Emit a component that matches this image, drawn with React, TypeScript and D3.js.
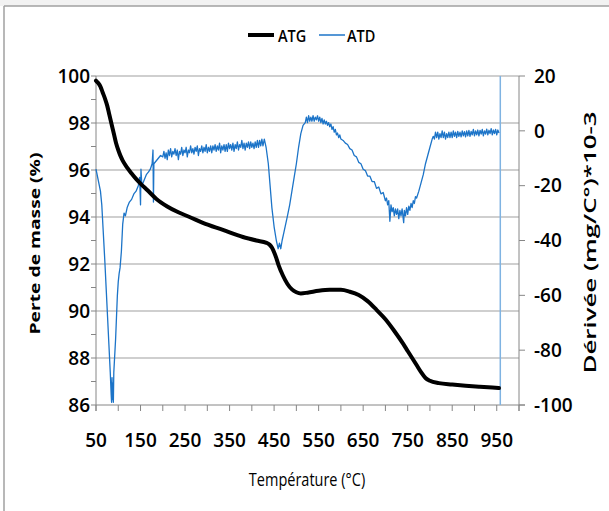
import React from "react";
import * as d3 from "d3";

// ---------- data ----------
const xTickValues = [50, 150, 250, 350, 450, 550, 650, 750, 850, 950];
const leftTickValues = [86, 88, 90, 92, 94, 96, 98, 100];
const rightTickValues = [-100, -80, -60, -40, -20, 0, 20];

// ATG : perte de masse (%) vs température (°C)
const atgTemp = [50, 55, 60, 65, 70, 75, 80, 85, 90, 95, 100, 105, 110, 120, 130, 140, 150, 165, 185, 210, 235, 260, 290, 335, 380, 410, 433, 440, 445, 450, 455, 460, 470, 480, 490, 500, 510, 525, 550, 575, 600, 620, 640, 660, 680, 700, 720, 740, 750, 760, 770, 780, 790, 800, 820, 850, 880, 910, 940, 955];
const atgMass = [99.8, 99.7, 99.55, 99.3, 99.05, 98.75, 98.35, 97.95, 97.55, 97.15, 96.85, 96.6, 96.4, 96.1, 95.85, 95.62, 95.42, 95.15, 94.78, 94.45, 94.2, 94.0, 93.75, 93.45, 93.15, 93.0, 92.9, 92.82, 92.7, 92.5, 92.25, 91.95, 91.5, 91.15, 90.92, 90.8, 90.75, 90.78, 90.86, 90.9, 90.9, 90.82, 90.68, 90.42, 90.05, 89.65, 89.15, 88.6, 88.3, 88.0, 87.7, 87.4, 87.15, 87.03, 86.93, 86.87, 86.82, 86.78, 86.74, 86.72];

// ATD : dérivée (mg/°C)*10-3 vs température (°C), [T, valeur]
const atdFirstPeak: [number, number][] = [
  [50, -14], [55, -18], [60, -22], [63, -27], [66, -36], [70, -48], [73, -58], [76, -68], [79, -78], [82, -88], [84, -96], [85, -99], [86, -90], [87, -98], [88, -92], [89, -99], [90, -88], [92, -82], [94, -76], [96, -68], [98, -60], [100, -55], [102, -52], [104, -50], [107, -44], [110, -34], [113, -30], [116, -31], [120, -28], [125, -26], [130, -25], [135, -23], [140, -22], [145, -20], [148, -17], [150, -27], [151, -14], [153, -20], [158, -18], [163, -16], [168, -15], [172, -14], [176, -12], [178, -7], [179, -26], [180, -12], [185, -11], [190, -10], [195, -9],
];
const atdPlateau: [number, number][] = [
  [200, -9.5], [202.5, -7.5], [205, -10], [207.5, -8], [210, -10.5], [212.5, -7], [215, -9], [217.5, -6.5], [220, -9.5], [222.5, -7.5], [225, -8.5], [227.5, -6.5], [230, -9], [232.5, -7], [235, -10.5], [237.5, -7.5], [240, -8.5], [242.5, -6], [245, -9], [247.5, -7], [250, -8], [252.5, -6], [255, -9.5], [257.5, -7], [260, -8], [262.5, -5.5], [265, -8], [267.5, -6.5], [270, -8.5], [272.5, -6], [275, -7.5], [277.5, -5.5], [280, -9], [282.5, -6.5], [285, -7.5], [287.5, -5.5], [290, -8], [292.5, -6], [295, -7.5], [297.5, -5], [300, -8], [302.5, -6], [305, -7.5], [307.5, -5.5], [310, -8], [312.5, -5.5], [315, -7], [317.5, -5], [320, -7.5], [322.5, -5.5], [325, -7], [327.5, -4.5], [330, -8], [332.5, -5.5], [335, -7], [337.5, -5], [340, -7.5], [342.5, -5], [345, -7.5], [347.5, -4.5], [350, -6.5], [352.5, -5], [355, -7], [357.5, -4.5], [360, -7.5], [362.5, -5], [365, -6.5], [367.5, -4], [370, -7], [372.5, -5], [375, -6], [377.5, -3.5], [380, -6.5], [382.5, -4.5], [385, -7], [387.5, -4.5], [390, -6], [392.5, -4], [395, -6.5], [397.5, -4], [400, -6], [402.5, -4.5], [405, -6.5], [407.5, -4], [410, -6], [412.5, -3.5], [415, -6], [417.5, -3.5], [420, -5.5], [422.5, -3], [425, -5.5], [428, -3], [432, -6],
];
const atdSecondPeak: [number, number][] = [
  [437, -12], [441, -20], [445, -28], [450, -35], [455, -40], [459, -43], [462, -41], [465, -43], [468, -40], [472, -37], [476, -34], [480, -31], [485, -27], [490, -22], [495, -17], [500, -12], [505, -6], [510, -1], [515, 2],
  [520, 3], [522.5, 5], [525, 3], [527.5, 5.5], [530, 3.5], [532.5, 5], [535, 3.5], [537.5, 5.5], [540, 3.5], [542.5, 5], [545, 4], [547.5, 5.5], [550, 3.5], [552.5, 5], [555, 3], [557.5, 4.5], [560, 2.5], [562.5, 4], [565, 2.5], [567.5, 3.5], [570, 2], [572.5, 3], [575, 1.5], [577.5, 2.5], [580, 0.5], [582.5, 1.5], [585, -0.5], [587.5, 0.5], [590, -1.5], [592.5, -0.8], [595, -2.5], [597.5, -1.5], [600, -3],
];
const atdThirdPeak: [number, number][] = [
  [605, -3.5], [610, -4.5], [615, -5], [620, -6.5], [625, -7], [630, -9], [635, -9.5], [640, -11.5], [645, -12], [650, -14], [655, -14.5], [660, -16.5], [665, -16.5], [670, -18.5], [675, -18.5], [680, -21], [685, -20.5], [690, -23], [695, -22.5], [700, -25.5],
  [702.5, -24.5], [705, -27], [707.5, -25.5], [710, -33], [712.5, -27], [715, -29.5], [717.5, -28], [720, -31], [722.5, -28.5], [725, -30.5], [727.5, -28.5], [730, -32], [732.5, -29], [735, -31], [737.5, -28.5], [741, -33.5], [742.5, -29], [745, -31], [747.5, -28], [750, -30.5], [752.5, -27.5], [755, -29], [757.5, -26.5], [760, -28], [762.5, -25.5], [765, -26.5], [767.5, -24], [770, -24.5], [775, -22], [780, -19], [785, -16], [790, -12], [795, -9], [800, -6], [805, -3],
];
const atdEnd: [number, number][] = [
  [807.5, -2], [810, -3], [812.5, -0.5], [815, -2.5], [817.5, -0.5], [820, -3], [822.5, -1], [825, -2.5], [827.5, 0], [830, -2.5], [832.5, -0.5], [835, -3], [837.5, -1], [840, -2.5], [842.5, -0.5], [845, -2.5], [847.5, -0.5], [850, -2.5], [852.5, 0], [855, -2], [857.5, -0.5], [860, -2.5], [862.5, -0.2], [865, -2], [867.5, -0.5], [870, -2.2], [872.5, 0], [875, -1.8], [877.5, -0.3], [880, -2.2], [882.5, 0], [885, -1.8], [887.5, 0.2], [890, -2], [892.5, -0.2], [895, -1.5], [897.5, 0.5], [900, -1.8], [902.5, 0], [905, -1.5], [907.5, 0.3], [910, -1.8], [912.5, 0.2], [915, -1.2], [917.5, 0.5], [920, -1.8], [922.5, 0], [925, -1.2], [927.5, 0.6], [930, -1.5], [932.5, 0.2], [935, -1], [937.5, 0.8], [940, -1.5], [942.5, 0.3], [945, -1], [947.5, 0.5], [950, -1.5], [952.5, 0.3], [955, -0.8],
];
const atdEndTemp = 958;

// ---------- layout ----------
const W = 609;
const H = 511;
const plot = { left: 96, right: 519, top: 76, bottom: 405 };
const font = "'Open Sans', 'Noto Sans', sans-serif";
const axisColor = "#868686";
const gridColor = "#bfbfbf";
const blue = "#1c74c8";

function SText(props: {
  x: number;
  y: number;
  anchor?: "start" | "middle" | "end";
  size: number;
  weight?: string | number;
  sy?: number;
  children: React.ReactNode;
}) {
  const sy = props.sy ?? 1;
  return (
    <text
      transform={`translate(${props.x},${props.y}) scale(1,${sy})`}
      textAnchor={props.anchor ?? "start"}
      fontFamily={font}
      fontWeight={props.weight ?? "bold"}
      fontSize={props.size}
      fill="#000"
    >
      {props.children}
    </text>
  );
}

export default function App() {
  const x = d3.scaleLinear().domain([50, 1000]).range([plot.left, plot.right]);
  const yL = d3.scaleLinear().domain([86, 100]).range([plot.bottom, plot.top]);
  const yR = d3.scaleLinear().domain([-100, 20]).range([plot.bottom, plot.top]);

  const atdPoints = [...atdFirstPeak, ...atdPlateau, ...atdSecondPeak, ...atdThirdPeak, ...atdEnd];

  const atgLine = d3
    .line<number>()
    .x((_, i) => x(atgTemp[i]))
    .y((d) => yL(d))
    .curve(d3.curveMonotoneX)(atgMass) as string;
  const atdLine = d3
    .line<[number, number]>()
    .x((d) => x(d[0]))
    .y((d) => yR(d[1]))(atdPoints) as string;

  const minorLeft = d3.range(86, 101, 1);
  const xMinor = d3.range(50, 1001, 50);
  const tickSize = 19;
  const half = 0.357 * tickSize;

  return (
    <svg width={W} height={H} style={{ position: "absolute", left: 0, top: 0, background: "#fff" }}>
      {/* outer frame */}
      <rect x={0} y={0} width={W} height={6} fill="#f2f2f2" />
      <line x1={4} y1={6} x2={W} y2={6} stroke="#a0a0a0" strokeWidth={1.5} />
      <line x1={4} y1={6} x2={4} y2={H} stroke="#a0a0a0" strokeWidth={1.5} />

      {/* gridlines */}
      {leftTickValues
        .filter((v) => v !== 86)
        .map((v) => (
          <line key={"g" + v} x1={plot.left} x2={plot.right} y1={yL(v)} y2={yL(v)} stroke={gridColor} strokeWidth={1.5} />
        ))}

      {/* left axis */}
      <line x1={plot.left} x2={plot.left} y1={plot.top} y2={plot.bottom + 6} stroke={axisColor} strokeWidth={1} />
      {minorLeft.map((v) => (
        <line key={"lt" + v} x1={plot.left - 5} x2={plot.left} y1={yL(v)} y2={yL(v)} stroke={axisColor} strokeWidth={1} />
      ))}
      {leftTickValues.map((v) => (
        <SText key={"ll" + v} x={90} y={yL(v) + half} anchor="end" size={tickSize} weight={600}>
          {v}
        </SText>
      ))}

      {/* right axis */}
      <line x1={plot.right} x2={plot.right} y1={plot.top} y2={plot.bottom + 6} stroke={axisColor} strokeWidth={1} />
      {rightTickValues.map((v) => (
        <line key={"rt" + v} x1={plot.right} x2={plot.right + 6} y1={yR(v)} y2={yR(v)} stroke={axisColor} strokeWidth={1} />
      ))}
      {rightTickValues.map((v) => (
        <SText key={"rl" + v} x={534} y={yR(v) + half} anchor="start" size={tickSize} weight={600}>
          {v}
        </SText>
      ))}

      {/* bottom axis */}
      <line x1={plot.left} x2={plot.right + 6} y1={plot.bottom} y2={plot.bottom} stroke={axisColor} strokeWidth={1} />
      {xMinor.map((v) => (
        <line key={"xt" + v} x1={x(v)} x2={x(v)} y1={plot.bottom} y2={plot.bottom + 6} stroke={axisColor} strokeWidth={1} />
      ))}
      {xTickValues.map((v) => (
        <SText key={"xl" + v} x={x(v)} y={447} anchor="middle" size={tickSize} weight={600}>
          {v}
        </SText>
      ))}

      {/* series */}
      <line x1={x(atdEndTemp)} x2={x(atdEndTemp)} y1={yR(20)} y2={yR(-100)} stroke="#7fb3e2" strokeWidth={1.5} />
      <path d={atdLine} fill="none" stroke={blue} strokeWidth={1.3} strokeLinejoin="round" />
      <path d={atgLine} fill="none" stroke="#000" strokeWidth={4} strokeLinejoin="round" strokeLinecap="round" />

      {/* axis titles */}
      <text
        transform={`translate(40,${(plot.top + plot.bottom) / 2 + 3}) rotate(-90)`}
        textAnchor="middle"
        fontFamily={font}
        fontWeight="bold"
        fontSize={15}
        textLength={182}
        lengthAdjust="spacingAndGlyphs"
        fill="#000"
      >
        Perte de masse  (%)
      </text>
      <text
        transform={`translate(596,${(plot.top + plot.bottom) / 2 + 2}) rotate(-90)`}
        textAnchor="middle"
        fontFamily={font}
        fontWeight="600"
        fontSize={17}
        textLength={262}
        lengthAdjust="spacingAndGlyphs"
        fill="#000"
      >
        Dérivée (mg/C°)*10-3
      </text>
      <SText x={307} y={486} anchor="middle" size={14.5} weight={400} sy={1.25}>
        Température (°C)
      </SText>

      {/* legend */}
      <line x1={248} x2={274} y1={35} y2={35} stroke="#000" strokeWidth={4} />
      <SText x={278} y={41.5} size={14.5} weight={600} sy={1.15}>ATG</SText>
      <line x1={319} x2={345} y1={35} y2={35} stroke={blue} strokeWidth={1.5} />
      <SText x={347} y={41.5} size={14.5} weight={600} sy={1.15}>ATD</SText>
    </svg>
  );
}
